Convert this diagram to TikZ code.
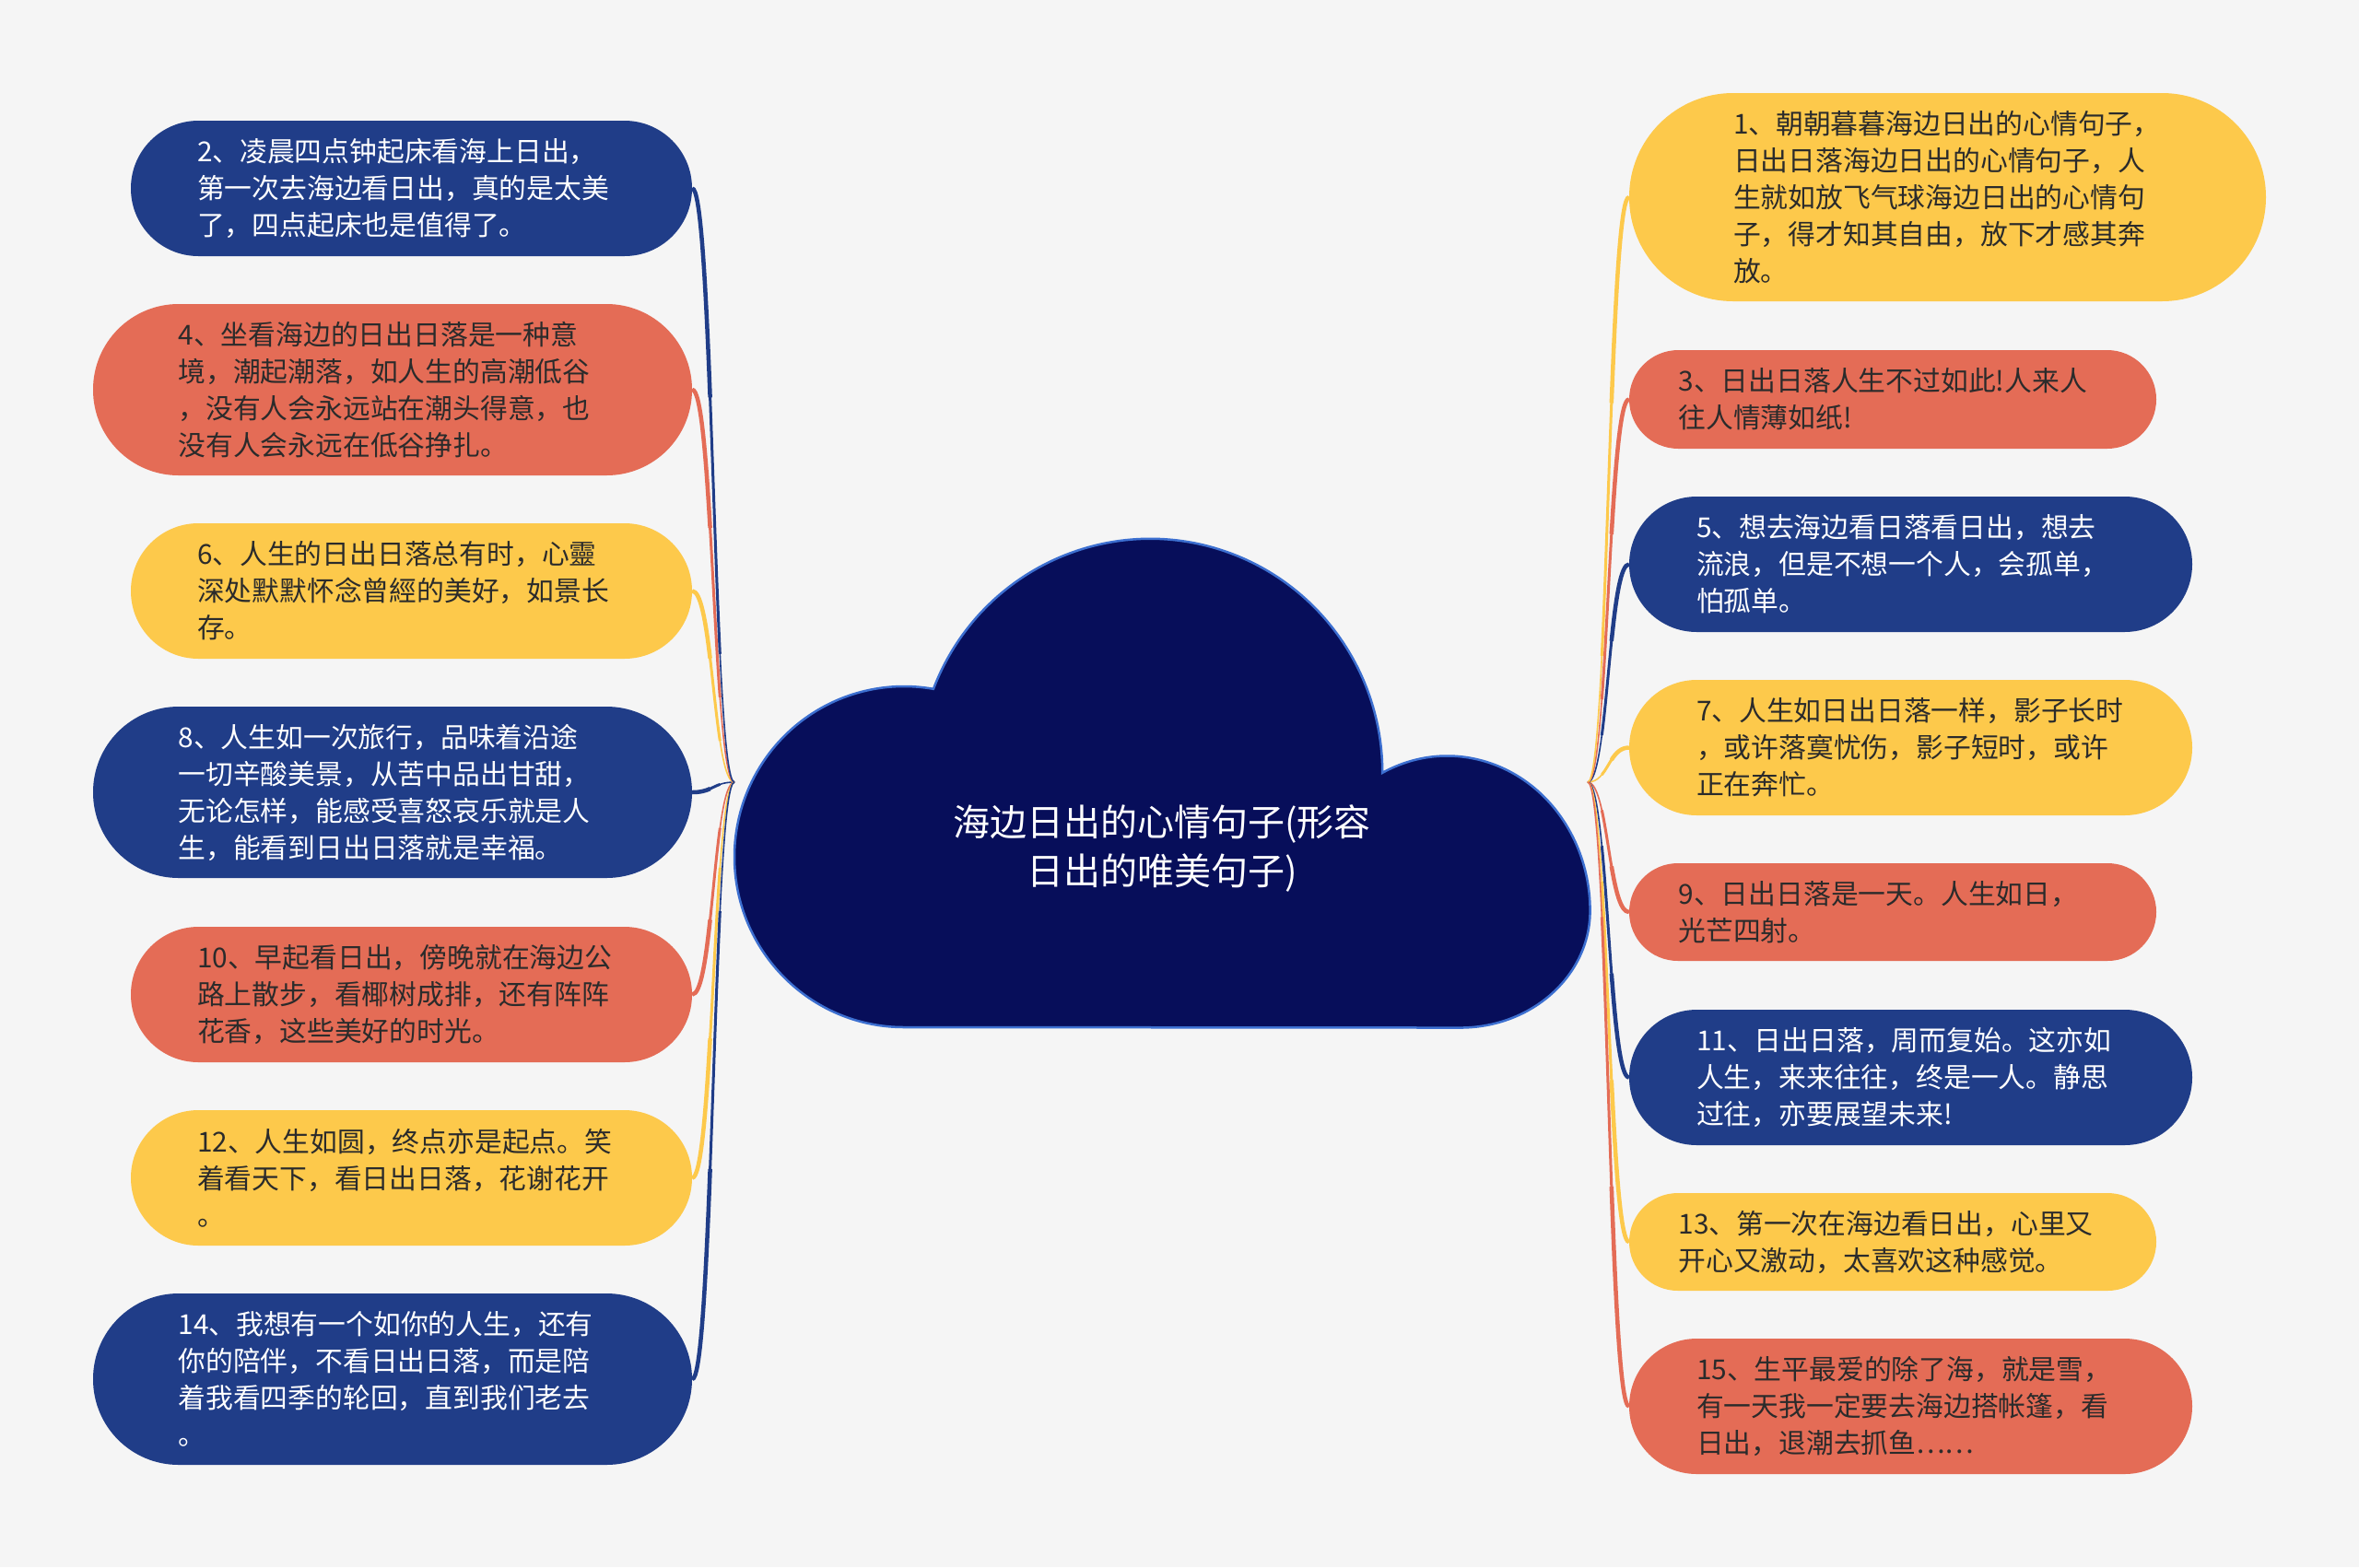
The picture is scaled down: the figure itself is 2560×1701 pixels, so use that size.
\documentclass[tikz,border=0pt]{standalone}
\usepackage{fontspec}
\newfontfamily\cjk{Noto Sans CJK SC}
\usetikzlibrary{calc}
\definecolor{bgc}{HTML}{F5F5F5}
\definecolor{nblue}{HTML}{203D88}
\definecolor{nred}{HTML}{E46C56}
\definecolor{nyel}{HTML}{FDC94B}
\definecolor{ntext}{HTML}{2B2B2B}
\definecolor{cloudf}{HTML}{070E5A}
\definecolor{cloudb}{HTML}{3C6FD0}
\pgfdeclarelayer{back}
\pgfdeclarelayer{conn}
\pgfsetlayers{back,conn,main}
\tikzset{
  leaf/.style={inner sep=0pt, text width=465pt, align=left,
    font=\cjk\fontsize{29.8pt}{40pt}\selectfont},
  bluebox/.style={leaf, fill=nblue, text=white},
  redbox/.style={leaf, fill=nred, text=ntext},
  yelbox/.style={leaf, fill=nyel, text=ntext},
  pill/.style 2 args={minimum width=#1pt, minimum height=#2pt, rounded corners=0.499*#2pt},
}
% sub-curve of the connector from parameter #2 to 1
\newcommand\subconn[3]{%
  \path ($(p0)!#2!(c1)$) coordinate (q01) ($(c1)!#2!(c2)$) coordinate (q12) ($(c2)!#2!(p3)$) coordinate (q23);
  \path ($(q01)!#2!(q12)$) coordinate (q012) ($(q12)!#2!(q23)$) coordinate (q123);
  \path ($(q012)!#2!(q123)$) coordinate (qb);
  \draw[#1, line width=#3] (qb) .. controls (q123) and (q23) .. (p3);
}
\newcommand\conn[3]{%
  \path ($(#1)!0.5!(#2)$) coordinate (cm);
  \path (cm |- #1) coordinate (c1) (cm |- #2) coordinate (c2) (#1) coordinate (p0) (#2) coordinate (p3);
  \draw[#3, line width=1.6pt] (p0) .. controls (c1) and (c2) .. (p3);
  \subconn{#3}{0.3}{3pt}%
  \subconn{#3}{0.6}{4.5pt}%
}
\begin{document}
\begin{tikzpicture}[x=1pt,y=-1pt]
\begin{pgfonlayer}{back}
\fill[bgc] (0,0) rectangle (2560,1701);
\end{pgfonlayer}
\useasboundingbox (0,0) rectangle (2560,1701);

% central cloud
\filldraw[fill=cloudf, draw=cloudb, line width=2.5pt]
  (981,1115) arc[start angle=90, end angle=280, x radius=184, y radius=185]
  arc[start angle=201, end angle=360, x radius=252, y radius=254]
  arc[start angle=243, end angle=360, x radius=155, y radius=168]
  arc[start angle=0, end angle=90, x radius=141, y radius=127]
  -- cycle;
\node[font=\cjk\fontsize{40pt}{53pt}\selectfont, text=white, align=center] (center) at (1261,921)
  {海边日出的心情句子(形容\\日出的唯美句子)};
\coordinate (L) at (797,849);
\coordinate (R) at (1723,849);

% left nodes
\node[bluebox, pill={609}{147}] (n2) at (446.5,204.5)
  {2、凌晨四点钟起床看海上日出，\\第一次去海边看日出，真的是太美\\了，四点起床也是值得了。};
\node[redbox, pill={650}{186}] (n4) at (426,423)
  {4、坐看海边的日出日落是一种意\\境，潮起潮落，如人生的高潮低谷\\，没有人会永远站在潮头得意，也\\没有人会永远在低谷挣扎。};
\node[yelbox, pill={609}{147}] (n6) at (446.5,641.5)
  {6、人生的日出日落总有时，心靈\\深处默默怀念曾經的美好，如景长\\存。};
\node[bluebox, pill={650}{186}] (n8) at (426,860)
  {8、人生如一次旅行，品味着沿途\\一切辛酸美景，从苦中品出甘甜，\\无论怎样，能感受喜怒哀乐就是人\\生，能看到日出日落就是幸福。};
\node[redbox, pill={609}{147}] (n10) at (446.5,1079.5)
  {10、早起看日出，傍晚就在海边公\\路上散步，看椰树成排，还有阵阵\\花香，这些美好的时光。};
\node[yelbox, pill={609}{147}] (n12) at (446.5,1278.5)
  {12、人生如圆，终点亦是起点。笑\\着看天下，看日出日落，花谢花开\\。};
\node[bluebox, pill={650}{186}] (n14) at (426,1497)
  {14、我想有一个如你的人生，还有\\你的陪伴，不看日出日落，而是陪\\着我看四季的轮回，直到我们老去\\。};

% right nodes
\node[yelbox, pill={691}{226}] (n1) at (2113.5,214)
  {1、朝朝暮暮海边日出的心情句子，\\日出日落海边日出的心情句子，人\\生就如放飞气球海边日出的心情句\\子，得才知其自由，放下才感其奔\\放。};
\node[redbox, pill={572}{107}] (n3) at (2054,433.5)
  {3、日出日落人生不过如此!人来人\\往人情薄如纸!};
\node[bluebox, pill={611}{147}] (n5) at (2073.5,612.5)
  {5、想去海边看日落看日出，想去\\流浪，但是不想一个人，会孤单，\\怕孤单。};
\node[yelbox, pill={611}{147}] (n7) at (2073.5,811.5)
  {7、人生如日出日落一样，影子长时\\，或许落寞忧伤，影子短时，或许\\正在奔忙。};
\node[redbox, pill={572}{106}] (n9) at (2054,990)
  {9、日出日落是一天。人生如日，\\光芒四射。};
\node[bluebox, pill={611}{147}] (n11) at (2073.5,1169.5)
  {11、日出日落，周而复始。这亦如\\人生，来来往往，终是一人。静思\\过往，亦要展望未来!};
\node[yelbox, pill={572}{106}] (n13) at (2054,1348)
  {13、第一次在海边看日出，心里又\\开心又激动，太喜欢这种感觉。};
\node[redbox, pill={611}{147}] (n15) at (2073.5,1526.5)
  {15、生平最爱的除了海，就是雪，\\有一天我一定要去海边搭帐篷，看\\日出，退潮去抓鱼……};

% connectors
\begin{pgfonlayer}{conn}
\conn{L}{n8.east}{nblue}
\conn{L}{n6.east}{nyel}
\conn{L}{n10.east}{nred}
\conn{L}{n4.east}{nred}
\conn{L}{n12.east}{nyel}
\conn{L}{n2.east}{nblue}
\conn{L}{n14.east}{nblue}
\conn{R}{n7.west}{nyel}
\conn{R}{n9.west}{nred}
\conn{R}{n5.west}{nblue}
\conn{R}{n11.west}{nblue}
\conn{R}{n3.west}{nred}
\conn{R}{n13.west}{nyel}
\conn{R}{n1.west}{nyel}
\conn{R}{n15.west}{nred}
\end{pgfonlayer}
\end{tikzpicture}
\end{document}
